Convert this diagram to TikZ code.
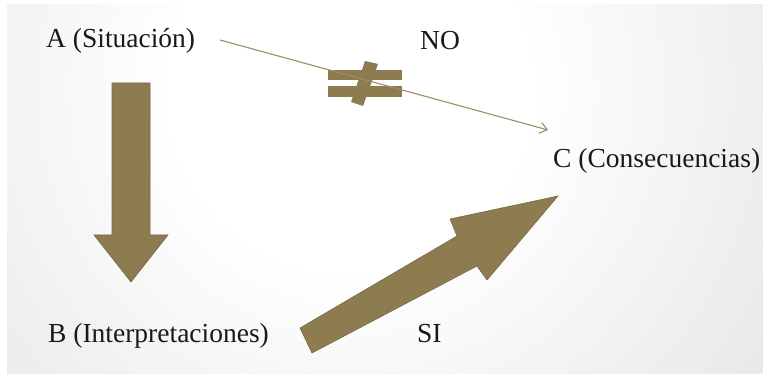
\documentclass[tikz,border=0pt]{standalone}
\usepackage{fontspec}
\setmainfont{Liberation Serif}
\usetikzlibrary{arrows.meta}
\definecolor{olive}{RGB}{141,124,80}
\definecolor{olivedark}{RGB}{120,106,68}
\definecolor{thinline}{RGB}{160,142,98}
\definecolor{bggray}{RGB}{188,188,188}
\definecolor{txt}{RGB}{25,25,25}
\pgfdeclareradialshading{bgshade}{\pgfpoint{0bp}{0bp}}{color(0bp)=(white); color(8bp)=(white); color(50bp)=(bggray)}
\tikzset{
  lbl/.style={anchor=base west, inner sep=0pt, text=txt, font=\fontsize{27.5}{31}\selectfont},
  bigarrow/.style={fill=olive, draw=olivedark, line width=0.6pt, line join=miter},
  thinarrow/.style={draw=thinline, line width=1.1pt, -{Straight Barb[length=7pt,width=11pt,line width=1.1pt]}},
}
\begin{document}
\begin{tikzpicture}[x=1pt,y=-1pt]
\useasboundingbox (0,0) rectangle (763,374);
\fill[white] (0,0) rectangle (763,374);
\begin{scope}
\clip (7,5) rectangle (763,374);
\shade[shading=bgshade] (350,90) circle (560);
\end{scope}
% labels
\node[lbl] (A) at (46,48) {A (Situación)};
\node[lbl] (NO) at (420,50) {NO};
\node[lbl] (C) at (553,168) {C (Consecuencias)};
\node[lbl] (B) at (48,342) {B (Interpretaciones)};
\node[lbl] (SI) at (417,342) {SI};
% down arrow A -> B
\draw[bigarrow] (112,83) -- (150,83) -- (150,235) -- (168,235) -- (131,282) -- (94,235) -- (112,235) -- cycle;
% diagonal arrow B -> C
\draw[bigarrow] (312,353) -- (300,328) -- (457,236) -- (450,219) -- (558,196) -- (487,280) -- (477,266) -- cycle;
% not-equal sign
\fill[olive] (328,70) rectangle (402,80);
\fill[olive] (328,86) rectangle (402,97);
\fill[olive] (365,61) -- (378,64) -- (363,106) -- (351,102) -- cycle;
% thin arrow A -> C
\coordinate (As) at (220,40);
\coordinate (Ce) at (548,130);
\draw[thinarrow] (As) -- (Ce);
\end{tikzpicture}
\end{document}
